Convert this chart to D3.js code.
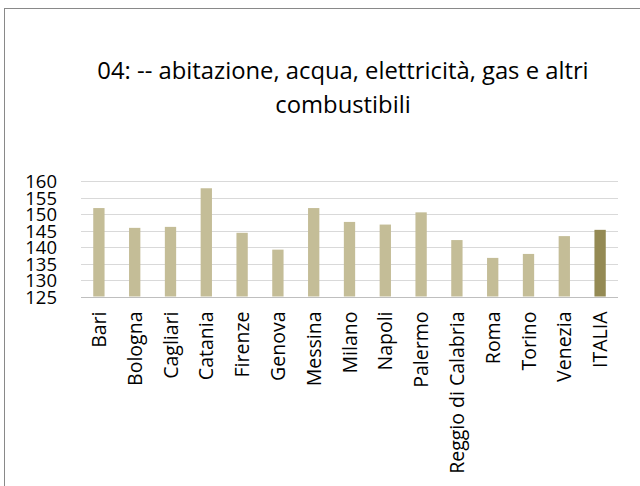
<!DOCTYPE html>
<html><head><meta charset="utf-8">
<script src="https://cdn.jsdelivr.net/npm/d3@7"></script>
<style>
html,body{margin:0;padding:0;background:#fff;}
text{font-family:"Open Sans",sans-serif;fill:#000;}
</style></head>
<body><svg id="c" width="640" height="486"></svg>
<script>
const categories = ["Bari","Bologna","Cagliari","Catania","Firenze","Genova","Messina","Milano","Napoli","Palermo","Reggio di Calabria","Roma","Torino","Venezia","ITALIA"];
const values = [151.8,145.8,146.1,157.8,144.3,139.2,151.8,147.6,146.8,150.5,142.1,136.7,137.9,143.3,145.2];
const yTicks = [125,130,135,140,145,150,155,160];
const titleLines = ["04: -- abitazione, acqua, elettricità, gas e altri","combustibili"];

(function(){
const FONT = "'Open Sans',sans-serif";
const svg = d3.select("#c");
svg.append("rect").attr("x",4.5).attr("y",8.5).attr("width",700).attr("height",600)
  .attr("fill","none").attr("stroke","#898989").attr("stroke-width",1);

const pLeft=81, pRight=618, pTop=181, pBottom=296.5;
const x = d3.scaleBand().domain(categories).range([pLeft,pRight]).paddingInner(0.684).paddingOuter(0.342);
const y = d3.scaleLinear().domain([125,160]).range([pBottom,pTop]);

svg.append("g").selectAll("line").data(yTicks.slice(1)).join("line")
  .attr("x1",pLeft).attr("x2",pRight).attr("y1",d=>Math.round(y(d))+0.5).attr("y2",d=>Math.round(y(d))+0.5)
  .attr("stroke","#d9d9d9").attr("stroke-width",1);

svg.append("g").selectAll("rect").data(categories).join("rect")
  .attr("x",d=>x(d)).attr("width",x.bandwidth())
  .attr("y",(d,i)=>y(values[i])).attr("height",(d,i)=>y(125)-y(values[i]))
  .attr("fill",d=>d==="ITALIA"?"#948a54":"#c4bd97");

svg.append("line").attr("x1",pLeft).attr("x2",pRight).attr("y1",Math.round(pBottom)+0.5).attr("y2",Math.round(pBottom)+0.5)
  .attr("stroke","#bfbfbf").attr("stroke-width",1);

const ya = svg.append("g").attr("transform",`translate(${pLeft-24},0)`)
  .call(d3.axisLeft(y).tickValues(yTicks).tickSize(0).tickPadding(0));
ya.select(".domain").remove();
ya.selectAll("text").attr("font-size","18.5px").attr("font-family",FONT).attr("fill","#000").attr("dy","0.36em");

const xa = svg.append("g").attr("transform",`translate(0,${pBottom})`)
  .call(d3.axisBottom(x).tickSize(0).tickPadding(0));
xa.select(".domain").remove();
xa.selectAll("text").attr("font-size","19.5px").attr("font-family",FONT).attr("fill","#000")
  .attr("text-anchor","end").attr("transform","rotate(-90)").attr("x",-15).attr("y",0).attr("dy","0.36em");

svg.append("g").selectAll("text").data(titleLines).join("text")
  .attr("x",343).attr("y",(d,i)=>79+i*34).attr("text-anchor","middle")
  .attr("font-size","23.8px").attr("font-family",FONT).text(d=>d);
})();
</script></body></html>
